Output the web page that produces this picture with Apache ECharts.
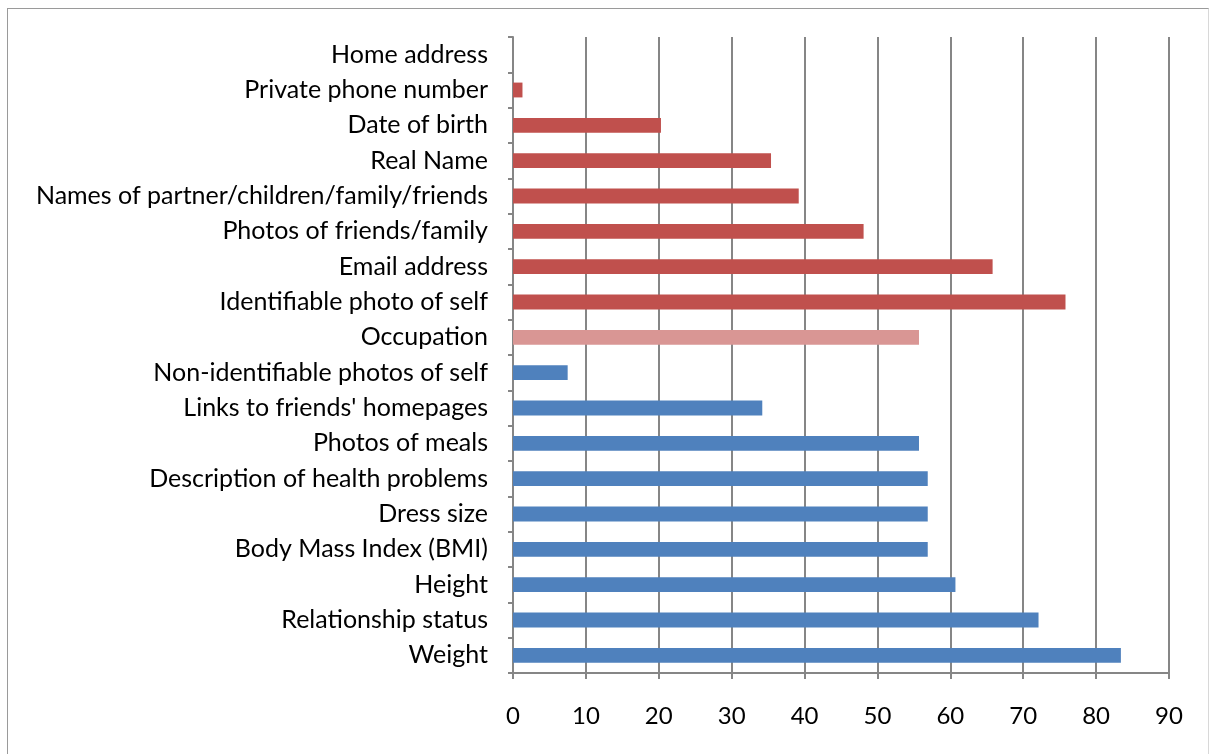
<!DOCTYPE html>
<html>
<head>
<meta charset="utf-8">
<script src="https://cdn.jsdelivr.net/npm/echarts@6/dist/echarts.min.js"></script>
<style>
  html, body { margin: 0; padding: 0; background: #fff; }
  #frame { position: absolute; left: 7px; top: 8px; width: 1202px; height: 760px; border: 1.5px solid #9a9a9a; border-right-color: #d8d8d8; box-sizing: border-box; }
  #chart { position: absolute; left: 0; top: 0; width: 1211px; height: 754px; }
</style>
</head>
<body>
<div id="frame"></div>
<div id="chart"></div>
<script>
// Items listed from bottom of the chart to the top
const categories = [
  'Weight', 'Relationship status', 'Height', 'Body Mass Index (BMI)', 'Dress size',
  'Description of health problems', 'Photos of meals', "Links to friends' homepages",
  'Non-identifiable photos of self', 'Occupation', 'Identifiable photo of self',
  'Email address', 'Photos of friends/family', 'Names of partner/children/family/friends',
  'Real Name', 'Date of birth', 'Private phone number', 'Home address'
];
const percentages = [
  83.4, 72.1, 60.7, 56.9, 56.9,
  56.9, 55.7, 34.2,
  7.5, 55.7, 75.8,
  65.8, 48.1, 39.2,
  35.4, 20.3, 1.3, 0
];
// Kind of information each item belongs to
const groups = [
  'body', 'body', 'body', 'body', 'body',
  'body', 'body', 'body',
  'body', 'mixed', 'identity',
  'identity', 'identity', 'identity',
  'identity', 'identity', 'identity', 'identity'
];
const xTicks = [0, 10, 20, 30, 40, 50, 60, 70, 80, 90];

const groupColors = { body: '#4F81BD', mixed: '#D99694', identity: '#C0504D' };
const gridColor = '#868686';
const font = 'Lato';

const chart = echarts.init(document.getElementById('chart'), null, { renderer: 'canvas' });
chart.setOption({
  animation: false,
  backgroundColor: 'transparent',
  grid: { left: 513, right: 42, top: 37, bottom: 81, containLabel: false },
  xAxis: {
    type: 'value',
    min: xTicks[0],
    max: xTicks[xTicks.length - 1],
    interval: 10,
    axisLine: { show: true, lineStyle: { color: gridColor, width: 2 } },
    axisTick: { show: true, length: 6, lineStyle: { color: gridColor, width: 2 } },
    splitLine: { show: true, lineStyle: { color: gridColor, width: 2 } },
    axisLabel: { color: '#000', fontFamily: font, fontSize: 24, margin: 31 }
  },
  yAxis: {
    type: 'category',
    data: categories,
    axisLine: { show: true, lineStyle: { color: gridColor, width: 2 } },
    axisTick: { show: true, length: 5, lineStyle: { color: gridColor, width: 2 } },
    axisLabel: { color: '#000', fontFamily: font, fontSize: 25, margin: 25 }
  },
  series: [{
    type: 'bar',
    barWidth: '42%',
    data: percentages.map((v, i) => ({
      value: v,
      itemStyle: { color: groupColors[groups[i]] }
    }))
  }]
});
</script>
</body>
</html>
